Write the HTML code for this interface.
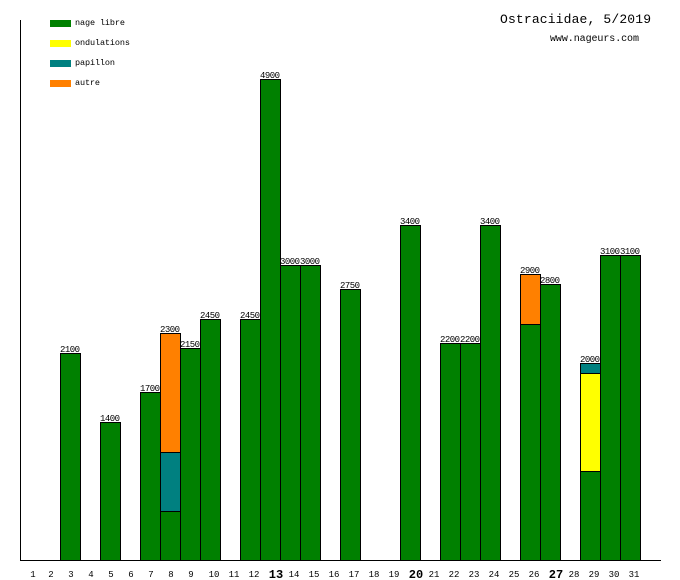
<!DOCTYPE html>
<html><head><meta charset="utf-8"><style>
html,body{margin:0;padding:0;background:#fff}
svg{display:block}
text{font-family:"Liberation Mono","DejaVu Sans Mono",monospace;fill:#000}
.v{font-size:9px}
.d{font-size:9px}
.b{font-size:12px;font-weight:bold}
.l{font-size:8.5px}
</style></head><body>
<svg width="680" height="580" viewBox="0 0 680 580" xmlns="http://www.w3.org/2000/svg" shape-rendering="crispEdges">
<line x1="20.5" y1="20" x2="20.5" y2="560" stroke="#000"/>
<line x1="20" y1="560.5" x2="661" y2="560.5" stroke="#000"/>
<rect x="50" y="20" width="21" height="7" fill="#008000"/><text class="l" x="75" y="25" textLength="50">nage libre</text>
<rect x="50" y="40" width="21" height="7" fill="#ffff00"/><text class="l" x="75" y="45" textLength="55">ondulations</text>
<rect x="50" y="60" width="21" height="7" fill="#008080"/><text class="l" x="75" y="65" textLength="40">papillon</text>
<rect x="50" y="80" width="21" height="7" fill="#ff8000"/><text class="l" x="75" y="85" textLength="25">autre</text>
<text x="651" y="23" text-anchor="end" font-size="13" textLength="151">Ostraciidae, 5/2019</text>
<text x="639" y="41" text-anchor="end" font-size="10" textLength="89">www.nageurs.com</text>
<g stroke="#000" stroke-width="1">
<rect x="60.5" y="353.5" width="20" height="207" fill="#008000"/>
<rect x="100.5" y="422.5" width="20" height="138" fill="#008000"/>
<rect x="140.5" y="392.5" width="20" height="168" fill="#008000"/>
<rect x="160.5" y="511.5" width="20" height="49" fill="#008000"/>
<rect x="160.5" y="452.5" width="20" height="59" fill="#008080"/>
<rect x="160.5" y="333.5" width="20" height="119" fill="#ff8000"/>
<rect x="180.5" y="348.5" width="20" height="212" fill="#008000"/>
<rect x="200.5" y="319.5" width="20" height="241" fill="#008000"/>
<rect x="240.5" y="319.5" width="20" height="241" fill="#008000"/>
<rect x="260.5" y="79.5" width="20" height="481" fill="#008000"/>
<rect x="280.5" y="265.5" width="20" height="295" fill="#008000"/>
<rect x="300.5" y="265.5" width="20" height="295" fill="#008000"/>
<rect x="340.5" y="289.5" width="20" height="271" fill="#008000"/>
<rect x="400.5" y="225.5" width="20" height="335" fill="#008000"/>
<rect x="440.5" y="343.5" width="20" height="217" fill="#008000"/>
<rect x="460.5" y="343.5" width="20" height="217" fill="#008000"/>
<rect x="480.5" y="225.5" width="20" height="335" fill="#008000"/>
<rect x="520.5" y="324.5" width="20" height="236" fill="#008000"/>
<rect x="520.5" y="274.5" width="20" height="50" fill="#ff8000"/>
<rect x="540.5" y="284.5" width="20" height="276" fill="#008000"/>
<rect x="580.5" y="471.5" width="20" height="89" fill="#008000"/>
<rect x="580.5" y="373.5" width="20" height="98" fill="#ffff00"/>
<rect x="580.5" y="363.5" width="20" height="10" fill="#008080"/>
<rect x="600.5" y="255.5" width="20" height="305" fill="#008000"/>
<rect x="620.5" y="255.5" width="20" height="305" fill="#008000"/>
</g>
<g class="v">
<text x="60" y="352" textLength="20">2100</text>
<text x="100" y="421" textLength="20">1400</text>
<text x="140" y="391" textLength="20">1700</text>
<text x="160" y="332" textLength="20">2300</text>
<text x="180" y="347" textLength="20">2150</text>
<text x="200" y="318" textLength="20">2450</text>
<text x="240" y="318" textLength="20">2450</text>
<text x="260" y="78" textLength="20">4900</text>
<text x="280" y="264" textLength="20">3000</text>
<text x="300" y="264" textLength="20">3000</text>
<text x="340" y="288" textLength="20">2750</text>
<text x="400" y="224" textLength="20">3400</text>
<text x="440" y="342" textLength="20">2200</text>
<text x="460" y="342" textLength="20">2200</text>
<text x="480" y="224" textLength="20">3400</text>
<text x="520" y="273" textLength="20">2900</text>
<text x="540" y="283" textLength="20">2800</text>
<text x="580" y="362" textLength="20">2000</text>
<text x="600" y="254" textLength="20">3100</text>
<text x="620" y="254" textLength="20">3100</text>
</g>
<g class="d" text-anchor="middle">
<text x="33" y="577">1</text><text x="51" y="577">2</text><text x="71" y="577">3</text><text x="91" y="577">4</text>
<text x="111" y="577">5</text><text x="131" y="577">6</text><text x="151" y="577">7</text><text x="171" y="577">8</text>
<text x="191" y="577">9</text><text x="214" y="577">10</text><text x="234" y="577">11</text><text x="254" y="577">12</text>
<text class="b" x="276" y="578">13</text><text x="294" y="577">14</text><text x="314" y="577">15</text><text x="334" y="577">16</text>
<text x="354" y="577">17</text><text x="374" y="577">18</text><text x="394" y="577">19</text>
<text class="b" x="416" y="578">20</text><text x="434" y="577">21</text><text x="454" y="577">22</text><text x="474" y="577">23</text>
<text x="494" y="577">24</text><text x="514" y="577">25</text><text x="534" y="577">26</text>
<text class="b" x="556" y="578">27</text><text x="574" y="577">28</text><text x="594" y="577">29</text><text x="614" y="577">30</text><text x="634" y="577">31</text>
</g>
</svg>
</body></html>
